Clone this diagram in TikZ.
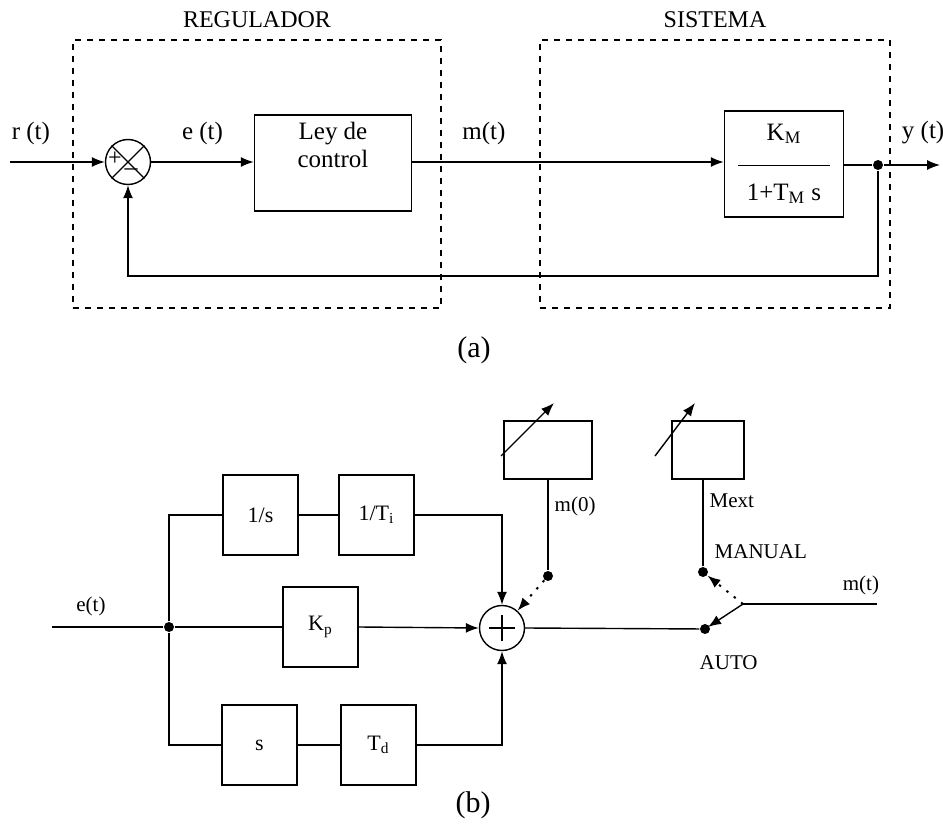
\documentclass[tikz,border=0pt]{standalone}
\usepackage{fontspec}
\setmainfont{Liberation Serif}
\usetikzlibrary{arrows.meta,positioning}

\begin{document}
\begin{tikzpicture}[
    x=0.5pt, y=-0.5pt,
    >={Latex[length=6.5pt,width=5pt]},
    line width=0.7pt,
    font=\fontsize{12.5}{14}\selectfont,
    blk/.style={draw, line width=0.75pt, align=center, inner sep=2pt},
    smallblk/.style={blk, minimum width=37.5pt, minimum height=40pt, font=\fontsize{11}{13}\selectfont},
    sumnode/.style={draw, circle, minimum size=22.5pt, inner sep=0pt},
    frame/.style={draw, dashed, line width=0.6pt},
    dot/.style={circle, fill, inner sep=0pt, minimum size=5pt},
    lblb/.style={font=\fontsize{10.5}{12}\selectfont, inner sep=1pt},
    dotarr/.style={->, line width=1pt, dash pattern=on 1.2pt off 3.5pt}
  ]
  \useasboundingbox (0,0) rectangle (943,834);

  % (a): lazo cerrado con regulador y sistema
  \node[frame, minimum width=184pt, minimum height=134pt] (regframe) at (257,174) {};
  \node[frame, minimum width=175pt, minimum height=134pt] (sisframe) at (715,174) {};
  \node[font=\fontsize{12}{14}\selectfont] (reglbl) at (257,20) {REGULADOR};
  \node[font=\fontsize{12}{14}\selectfont] (sislbl) at (715,20) {SISTEMA};

  \node[sumnode] (sa) at (128,162) {};
  \draw (sa.north west) -- (sa.south east);
  \draw (sa.north east) -- (sa.south west);
  \node[inner sep=0pt, font=\fontsize{12}{12}\selectfont] (saplus) at (115,159) {+};
  \node[inner sep=0pt, font=\fontsize{13}{12}\selectfont] (saminus) at (131,172) {--};

  \node[blk, minimum width=78.5pt, minimum height=48pt] (ley) at (333,163) {Ley de\\control\\[4pt]};
  \node[blk, minimum width=59.5pt, minimum height=53pt] (km) at (784,164)
    {K\textsubscript{M}\\[-1pt]\rule{46pt}{0.6pt}\\[3pt]1+T\textsubscript{M} s};

  \coordinate (rin) at (10,162);
  \node[dot] (ydot) at (878,165) {};
  \coordinate (yout) at (940,165);

  \draw[->] (rin) -- node[pos=0.22, above=5pt] {r (t)} (sa.west);
  \draw[->] (sa.east) -- node[midway, above=5pt] {e (t)} (sa.east -| ley.west);
  \draw[->] (ley.east |- sa) -- node[pos=0.23, above=5pt] {m(t)} (ley.east |- sa -| km.west);
  \draw (km.east |- ydot) -- (ydot);
  \draw[->] (ydot) -- node[pos=0.7, above=7pt] {y (t)} (yout);
  \draw[->] (ydot) -- ++(0,111) -| (sa.south);

  \node[font=\fontsize{15}{17}\selectfont] (alab) at (474,350) {(a)};

  % (b): regulador PID con conmutador manual/auto
  \coordinate (ein) at (52,627);
  \node[dot] (split) at (169,627) {};
  \node[smallblk] (integ) at (260.5,515) {1/s};
  \node[smallblk] (ti) at (376.5,515) {1/T\textsubscript{i}};
  \node[smallblk] (kp) at (320.5,627) {K\textsubscript{p}};
  \node[smallblk] (deriv) at (259.5,745) {s};
  \node[smallblk] (td) at (378.5,745) {T\textsubscript{d}};
  \node[sumnode] (sb) at (502,628) {};
  \draw ([xshift=-6.5pt]sb.center) -- ([xshift=6.5pt]sb.center);
  \draw ([yshift=-6.5pt]sb.center) -- ([yshift=6.5pt]sb.center);

  \draw (ein) -- node[lblb, pos=0.35, above=4pt] {e(t)} (split) -- (kp.west);
  \draw (split) |- (integ.west);
  \draw (split) |- (deriv.west);
  \draw (integ) -- (ti);
  \draw (deriv) -- (td);
  \draw[->] (ti.east) -| (sb.north);
  \draw[->] (kp.east) -- (sb.west);
  \draw[->] (td.east) -| (sb.south);

  % ajustes m(0) y Mext
  \node[blk, minimum width=44pt, minimum height=29pt] (m0box) at (548,450) {};
  \draw[->] ([shift={(-47,6)}]m0box.center) -- ([shift={(6,-47)}]m0box.center);
  \node[dot] (m0dot) at (548,576) {};
  \draw (m0box.south) -- node[lblb, pos=0.3, right=2pt] {m(0)} (m0dot);
  \draw[dotarr] (m0dot) -- (sb.48);

  \node[blk, minimum width=36pt, minimum height=29pt] (mextbox) at (708,450) {};
  \coordinate (mexttop) at (703,479);
  \draw[->] ([shift={(-53,6)}]mextbox.center) -- ([shift={(-13,-47)}]mextbox.center);
  \node[dot] (mandot) at (703,572) {};
  \draw (mexttop) -- node[lblb, pos=0.25, right=2pt] {Mext} (mandot);
  \node[lblb, anchor=west] (manlbl) at (712,552) {MANUAL};

  \node[dot] (autodot) at (705,629) {};
  \coordinate (piv) at (743,604);
  \coordinate (mout) at (877,604);
  \draw (sb.east) -- (autodot);
  \draw[->, shorten >=-1pt] (piv) -- (autodot);
  \draw[dotarr] (piv) -- (mandot);
  \draw (piv) -- node[lblb, pos=0.88, above=3pt] {m(t)} (mout);
  \node[lblb, anchor=west] (autolbl) at (697,663) {AUTO};

  \node[font=\fontsize{15}{17}\selectfont] (blab) at (473,805) {(b)};
\end{tikzpicture}
\end{document}
